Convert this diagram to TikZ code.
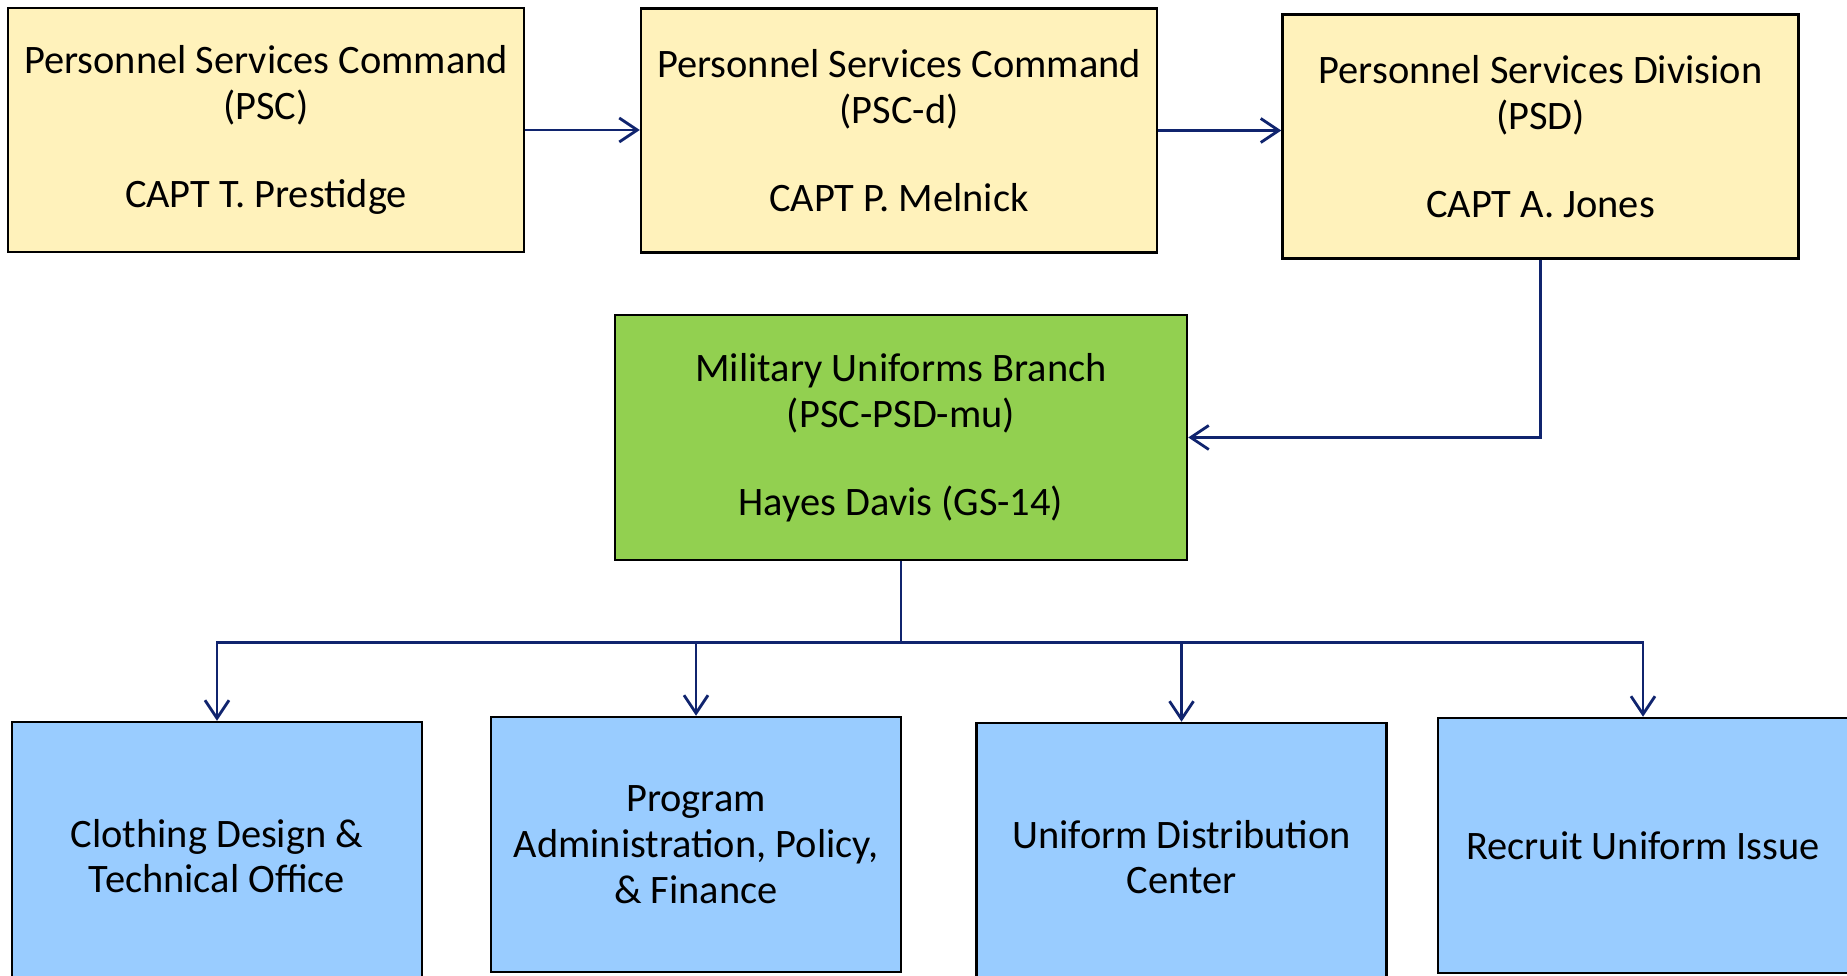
\documentclass[tikz,border=0pt]{standalone}
\usepackage{fontspec}
\setmainfont{Carlito}
\usetikzlibrary{arrows.meta,%
                positioning}
\definecolor{paleyellow}{RGB}{255,242,187}
\definecolor{leafgreen}{RGB}{146,208,80}
\definecolor{skyblue}{RGB}{153,204,255}
\definecolor{navy}{RGB}{16,36,110}

\begin{document}
\begin{tikzpicture}[font=\fontsize{11.5}{13}\selectfont]
  \useasboundingbox (0,0) rectangle (18.47,9.76);
  \clip (0,0) rectangle (18.47,9.76);
  \tikzset{BoxStyle/.style     = {shape          = rectangle,
                                  draw           = black,
                                  line width     = 0.7pt,
                                  align          = center,
                                  inner sep      = 2pt,
                                  text           = black}}
  \tikzset{CommandStyle/.style = {BoxStyle,
                                  fill           = paleyellow,
                                  minimum width  = 5.16cm,
                                  minimum height = 2.44cm}}
  \tikzset{BranchStyle/.style  = {BoxStyle,
                                  fill           = leafgreen,
                                  minimum width  = 5.72cm,
                                  minimum height = 2.45cm}}
  \tikzset{OfficeStyle/.style  = {BoxStyle,
                                  fill           = skyblue,
                                  minimum width  = 4.10cm,
                                  minimum height = 2.55cm}}
  \tikzset{EdgeStyle/.style    = {draw           = navy,
                                  line width     = 0.8pt,
                                  -{Straight Barb[length=1.8mm,width=2.4mm]}}}
     % chain of command
     \node[CommandStyle] (PSC)  at (2.66,8.46)
          {Personnel Services Command\\(PSC)\\[12pt]CAPT T. Prestidge};
     \node[CommandStyle] (PSCD) at (8.99,8.455)
          {Personnel Services Command\\(PSC-d)\\[12pt]CAPT P. Melnick};
     \node[CommandStyle] (PSD)  at (15.405,8.395)
          {Personnel Services Division\\(PSD)\\[12pt]CAPT A. Jones};
     \node[BranchStyle]  (MU)   at (9.01,5.385)
          {Military Uniforms Branch\\(PSC-PSD-mu)\\[12pt]Hayes Davis (GS-14)};
     % offices
     \node[OfficeStyle, minimum height = 2.68cm] (CD) at (2.17,1.20)
          {Clothing Design \&\\Technical Office};
     \node[OfficeStyle] (PA) at (6.96,1.315)
          {Program\\Administration, Policy,\\\& Finance};
     \node[OfficeStyle, minimum height = 2.68cm] (UD) at (11.815,1.19)
          {Uniform Distribution\\Center};
     \node[OfficeStyle] (RU) at (16.43,1.305)
          {Recruit Uniform Issue};
     \draw[EdgeStyle] (PSC.east)  -- (PSC.east -| PSCD.west);
     \draw[EdgeStyle] (PSCD.east) -- (PSCD.east -| PSD.west);
     \draw[EdgeStyle] (PSD.south) |- (MU.east);
     \foreach \office in {CD,PA,UD,RU}
       \draw[EdgeStyle] (MU.south) -- ++(0,-0.81) -| (\office.north);
\end{tikzpicture}
\end{document}
